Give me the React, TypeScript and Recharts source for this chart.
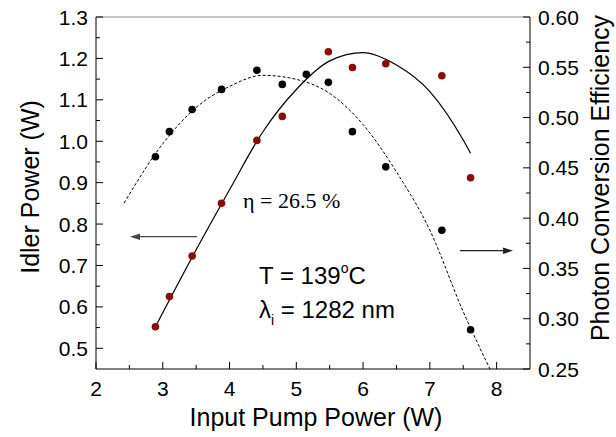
import { ComposedChart, Line, Scatter, XAxis, YAxis, ReferenceLine } from "recharts";

// measured points
const idlerX = [2.89, 3.1, 3.44, 3.88, 4.41, 4.79, 5.48, 5.84, 6.34, 7.18, 7.61];
const idlerPower = [0.552, 0.625, 0.723, 0.85, 1.002, 1.06, 1.216, 1.178, 1.187, 1.158, 0.912];

const effX = [2.89, 3.1, 3.44, 3.88, 4.41, 4.79, 5.15, 5.48, 5.84, 6.34, 7.18, 7.61];
const efficiency = [0.461, 0.486, 0.508, 0.528, 0.547, 0.533, 0.543, 0.535, 0.486, 0.451, 0.388, 0.289];

// fitted curves
const idlerFitX = [2.89, 3.5, 4.0, 4.5, 5.0, 5.5, 6.0, 6.5, 7.0, 7.5, 7.61];
const idlerFitY = [0.552, 0.738, 0.883, 1.023, 1.125, 1.194, 1.214, 1.184, 1.12, 1.003, 0.971];

const effFitX = [2.42, 3.0, 3.5, 4.0, 4.5, 5.0, 5.5, 6.0, 6.5, 7.0, 7.5, 7.9];
const effFitY = [0.415, 0.474, 0.51, 0.531, 0.542, 0.538, 0.524, 0.493, 0.446, 0.388, 0.307, 0.25];

const xTicks = [2, 2.5, 3, 3.5, 4, 4.5, 5, 5.5, 6, 6.5, 7, 7.5, 8];
const leftTicks = [0.5, 0.55, 0.6, 0.65, 0.7, 0.75, 0.8, 0.85, 0.9, 0.95, 1.0, 1.05, 1.1, 1.15, 1.2, 1.25, 1.3];
const rightTicks = [0.25, 0.275, 0.3, 0.325, 0.35, 0.375, 0.4, 0.425, 0.45, 0.475, 0.5, 0.525, 0.55, 0.575, 0.6];

const zip = (xs: number[], ys: number[]) => xs.map((x, i) => ({ x, y: ys[i] }));

const idlerPts = zip(idlerX, idlerPower);
const effPts = zip(effX, efficiency);
const idlerFit = zip(idlerFitX, idlerFitY);
const effFit = zip(effFitX, effFitY);

const SANS = "'Liberation Sans', Arial, Helvetica, sans-serif";
const isStep = (v: number, step: number) => Math.abs(v / step - Math.round(v / step)) < 1e-6;

const BottomTick = (props: any) => {
  const { x, y, payload } = props;
  const v = payload.value;
  const major = isStep(v, 1);
  return (
    <g>
      <line x1={x} x2={x} y1={y} y2={y - (major ? 7 : 4)} stroke="#000" />
      {major && (
        <text x={x} y={y + 27} textAnchor="middle" fontSize={21} fontFamily={SANS} fill="#000">
          {v}
        </text>
      )}
    </g>
  );
};

const LeftTick = (props: any) => {
  const { x, y, payload } = props;
  const v = payload.value;
  const major = isStep(v, 0.1);
  return (
    <g>
      <line x1={x} x2={x + (major ? 7 : 4)} y1={y} y2={y} stroke="#000" />
      {major && (
        <text x={x - 8} y={y} dy="0.36em" textAnchor="end" fontSize={21} fontFamily={SANS} fill="#000">
          {v.toFixed(1)}
        </text>
      )}
    </g>
  );
};

const RightTick = (props: any) => {
  const { x, y, payload } = props;
  const v = payload.value;
  const major = isStep(v, 0.05);
  return (
    <g>
      <line x1={x} x2={x - (major ? 7 : 4)} y1={y} y2={y} stroke="#000" />
      {major && (
        <text x={x + 8} y={y} dy="0.36em" textAnchor="start" fontSize={21} fontFamily={SANS} fill="#000">
          {v.toFixed(2)}
        </text>
      )}
    </g>
  );
};

const dot = (color: string) => (props: any) => <circle cx={props.cx} cy={props.cy} r={3.8} fill={color} />;

export default function App() {
  return (
    <div style={{ position: "relative", width: 616, height: 437, background: "#fff" }}>
      <style>{"body{margin:0}"}</style>
      <ComposedChart width={616} height={437} margin={{ top: 17, right: 0, bottom: 0, left: 0 }}>
        <XAxis
          type="number"
          dataKey="x"
          domain={[2, 8.5]}
          ticks={xTicks}
          interval={0}
          allowDataOverflow
          height={68}
          stroke="#000"
          tickSize={0}
          tickMargin={0}
          tick={<BottomTick />}
        />
        <YAxis
          yAxisId="left"
          type="number"
          domain={[0.45, 1.3]}
          ticks={leftTicks}
          interval={0}
          allowDataOverflow
          width={96}
          stroke="#000"
          tickSize={0}
          tickMargin={0}
          tick={<LeftTick />}
        />
        <YAxis
          yAxisId="right"
          orientation="right"
          type="number"
          domain={[0.25, 0.6]}
          ticks={rightTicks}
          interval={0}
          allowDataOverflow
          width={86}
          stroke="#000"
          tickSize={0}
          tickMargin={0}
          tick={<RightTick />}
        />
        <ReferenceLine yAxisId="left" y={1.3} stroke="#888" />
        <Line
          yAxisId="left"
          data={idlerFit}
          dataKey="y"
          type="monotone"
          stroke="#000"
          strokeWidth={1.2}
          dot={false}
          isAnimationActive={false}
        />
        <Line
          yAxisId="right"
          data={effFit}
          dataKey="y"
          type="monotone"
          stroke="#000"
          strokeWidth={1}
          strokeDasharray="3 2"
          dot={false}
          isAnimationActive={false}
        />
        <Scatter yAxisId="left" data={idlerPts} dataKey="y" shape={dot("#8b0a0a")} isAnimationActive={false} />
        <Scatter yAxisId="right" data={effPts} dataKey="y" shape={dot("#000")} isAnimationActive={false} />
      </ComposedChart>
      <svg width={616} height={437} style={{ position: "absolute", left: 0, top: 0, pointerEvents: "none" }}>
        <text x={316} y={426} textAnchor="middle" fontSize={25} fontFamily={SANS} fill="#000">
          Input Pump Power (W)
        </text>
        <text transform="translate(39,187) rotate(-90)" textAnchor="middle" fontSize={25} fontFamily={SANS} fill="#000">
          Idler Power (W)
        </text>
        <text transform="translate(609,178) rotate(-90)" textAnchor="middle" fontSize={25} fontFamily={SANS} fill="#000">
          Photon Conversion Efficiency
        </text>
        <text x={243} y={208} fontSize={22} fontFamily="'Liberation Serif', 'Times New Roman', serif" fill="#000">
          {"\u03b7 = 26.5 %"}
        </text>
        <text x={259} y={284} fontSize={24} fontFamily={SANS} fill="#000">
          T = 139<tspan fontSize={14} dy={-11}>o</tspan>
          <tspan dy={11}>C</tspan>
        </text>
        <text x={259} y={318} fontSize={24} fontFamily={SANS} fill="#000">
          {"\u03bb"}
          <tspan fontSize={14} dy={7}>i</tspan>
          <tspan dy={-7}> = 1282 nm</tspan>
        </text>
        <line x1={197} y1={236.7} x2={138} y2={236.7} stroke="#444" strokeWidth={1.3} />
        <polygon points="130,236.7 140,233.5 140,240" fill="#444" />
        <line x1={460} y1={250.7} x2={505} y2={250.7} stroke="#222" strokeWidth={1.3} />
        <polygon points="513,250.7 503,247.5 503,254" fill="#222" />
      </svg>
    </div>
  );
}
